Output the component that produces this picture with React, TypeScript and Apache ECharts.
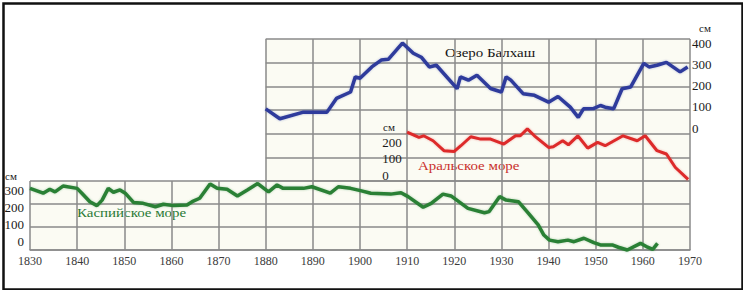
import React, { useEffect, useRef } from "react";
import * as echarts from "echarts";

// ---- data (years, levels in cm) ----
const caspianYears = [1830, 1832.8, 1834.2, 1835.3, 1837, 1840, 1841, 1842.7, 1844.2, 1845.3, 1846.6, 1847.7, 1849.1, 1850.2, 1852, 1854, 1856.6, 1858.3, 1860.4, 1863.3, 1864.4, 1866, 1868.2, 1869.7, 1871.8, 1874, 1876.1, 1878.3, 1880.6, 1882.4, 1883.7, 1888, 1889.8, 1893.7, 1895.4, 1898, 1900.1, 1902.3, 1906.5, 1908.7, 1910.2, 1913.4, 1915.1, 1917.6, 1919.3, 1922.9, 1926.4, 1927.4, 1929.6, 1931, 1933.6, 1935.7, 1937.8, 1939, 1940.2, 1942, 1944.1, 1945.4, 1947.5, 1949.6, 1951, 1953.5, 1954.8, 1956.7, 1959.5, 1961, 1962.1, 1963.1];
const caspianLevels = [268, 247, 264, 253, 278, 268, 247, 210, 193, 217, 268, 251, 261, 247, 206, 203, 188, 199, 193, 196, 210, 225, 287, 268, 264, 235, 261, 289, 253, 283, 268, 268, 275, 247, 275, 268, 258, 247, 243, 249, 232, 186, 203, 243, 235, 181, 162, 167, 232, 217, 210, 160, 109, 65, 43, 36, 43, 36, 51, 32, 22, 22, 12, 0, 29, 12, 3, 29];

const balkhashYears = [1880, 1883, 1888, 1893, 1895, 1898, 1899, 1900, 1902.5, 1904.5, 1906, 1909, 1911.3, 1913, 1914.7, 1916.2, 1920.6, 1921.3, 1923, 1924.8, 1927.7, 1930, 1931, 1932, 1934.6, 1937, 1940, 1942, 1944.6, 1946.3, 1947.4, 1949.5, 1951, 1952, 1953.8, 1955.6, 1957.4, 1960.2, 1961.3, 1963, 1965, 1967.9, 1969.5];
const balkhashLevels = [105, 63, 91, 91, 149, 176, 240, 234, 282, 311, 314, 383, 340, 323, 282, 289, 190, 240, 226, 247, 191, 176, 240, 226, 169, 162, 133, 157, 112, 69, 105, 106, 119, 112, 105, 190, 197, 297, 282, 289, 301, 261, 282];

const aralYears = [1910, 1912.5, 1913.5, 1915.5, 1917.8, 1920, 1921.4, 1923.5, 1925.6, 1927.7, 1930.5, 1933, 1934, 1935.5, 1937, 1940, 1941, 1943, 1944.2, 1946.2, 1948.3, 1950.4, 1952, 1955.8, 1958.8, 1960.5, 1963, 1965, 1966.9, 1969.6];
const aralLevels = [206, 184, 191, 170, 128, 125, 149, 187, 177, 177, 156, 191, 191, 220, 191, 142, 145, 170, 153, 191, 139, 163, 149, 191, 170, 191, 128, 114, 57, 7];

const yearRange = [1830, 1970];
const balkhashStartYear = 1880;
const aralStartYear = 1910;
const caspianTicks = [0, 100, 200, 300];
const balkhashTicks = [0, 100, 200, 300, 400];
const aralTicks = [0, 100, 200];
const unitLabel = "см";
const caspianName = "Каспийское море";
const balkhashName = "Озеро Балхаш";
const aralName = "Аральское море";

// ---- layout ----
const X0 = 30;
const X1 = 690;
const RIGHT = 743 - X1;
const xOf = (yr: number) => X0 + ((yr - yearRange[0]) / (yearRange[1] - yearRange[0])) * (X1 - X0);
const TOP_Y = 39;
const MID_Y = 181;
const BOT_Y = 250;
const STEP_TOP = (MID_Y - TOP_Y) / 6;

const FONT = '"Liberation Serif", "Times New Roman", serif';
const GRID_COLOR = "#8a8a8a";
const BG = "#fbfbf3";

const pairs = (xs: number[], ys: number[]) => xs.map((x, i) => [x, ys[i]]);

export default function App() {
  const ref = useRef<HTMLDivElement>(null);
  useEffect(() => {
    if (!ref.current) return;
    const chart = echarts.init(ref.current, null, { renderer: "svg" });
    const split = { show: true, lineStyle: { color: GRID_COLOR, width: 1.5 } };
    const hiddenX = (gi: number, min: number) => ({
      gridIndex: gi, type: "value", min, max: yearRange[1], show: false,
    });
    const labelY = (gi: number, ticks: number[], extra: any) => ({
      gridIndex: gi,
      type: "value",
      min: ticks[0],
      max: ticks[ticks.length - 1],
      interval: 100,
      axisLine: { show: false },
      axisTick: { show: false },
      splitLine: { show: false },
      ...extra,
    });
    chart.setOption({
      animation: false,
      backgroundColor: "#ffffff",
      grid: [
        { left: X0, right: RIGHT, top: MID_Y, height: BOT_Y - MID_Y, show: true, backgroundColor: BG, borderWidth: 0 },
        { left: xOf(balkhashStartYear), right: RIGHT, top: TOP_Y, height: MID_Y - TOP_Y, show: true, backgroundColor: BG, borderWidth: 0 },
        { left: xOf(aralStartYear), right: RIGHT, top: MID_Y - 2 * STEP_TOP, height: 2 * STEP_TOP },
        { left: xOf(aralStartYear), right: RIGHT, top: 142, height: 33 },
        { left: X0, right: RIGHT, top: 190, height: 51 },
        { left: xOf(balkhashStartYear), right: RIGHT, top: 43, height: 85 },
      ],
      xAxis: [
        {
          gridIndex: 0, type: "value", min: yearRange[0], max: yearRange[1], interval: 10,
          axisLine: { show: true, lineStyle: { color: GRID_COLOR, width: 1.5 } },
          axisTick: { show: false },
          axisLabel: { color: "#3a3a3a", fontFamily: FONT, fontSize: 12, margin: 5, formatter: (v: number) => String(v) },
          splitLine: split,
        },
        {
          gridIndex: 1, type: "value", min: balkhashStartYear, max: yearRange[1], interval: 10,
          axisLine: { show: false }, axisTick: { show: false }, axisLabel: { show: false },
          splitLine: split,
        },
        hiddenX(2, aralStartYear),
        hiddenX(3, aralStartYear),
        hiddenX(4, yearRange[0]),
        hiddenX(5, balkhashStartYear),
      ],
      yAxis: [
        {
          gridIndex: 0, type: "value", min: caspianTicks[0], max: caspianTicks[caspianTicks.length - 1], interval: 100,
          axisLine: { show: false }, axisTick: { show: false }, axisLabel: { show: false },
          splitLine: split,
        },
        {
          gridIndex: 1, type: "value", position: "right", min: -200, max: balkhashTicks[balkhashTicks.length - 1], interval: 100,
          axisLine: { show: false }, axisTick: { show: false }, axisLabel: { show: false },
          splitLine: split,
        },
        { gridIndex: 2, type: "value", min: aralTicks[0], max: aralTicks[aralTicks.length - 1], show: false },
        labelY(3, aralTicks, {
          axisLabel: { align: "left", margin: 25, color: "#1a1a1a", fontFamily: FONT, fontSize: 13 },
        }),
        labelY(4, caspianTicks, {
          axisLabel: { margin: 6, color: "#1a1a1a", fontFamily: FONT, fontSize: 13 },
        }),
        labelY(5, balkhashTicks, {
          position: "right",
          axisLabel: { margin: 2, color: "#1a1a1a", fontFamily: FONT, fontSize: 13 },
        }),
      ],
      series: [
        {
          type: "line", name: caspianName, xAxisIndex: 0, yAxisIndex: 0,
          data: pairs(caspianYears, caspianLevels),
          showSymbol: false, clip: false,
          lineStyle: { color: "#2a8036", width: 3.5, shadowColor: "rgba(42,128,54,0.35)", shadowBlur: 2 },
        },
        {
          type: "line", name: balkhashName, xAxisIndex: 1, yAxisIndex: 1,
          data: pairs(balkhashYears, balkhashLevels),
          showSymbol: false, clip: false,
          lineStyle: { color: "#2f3b9c", width: 3.5, shadowColor: "rgba(47,59,156,0.35)", shadowBlur: 2 },
        },
        {
          type: "line", name: aralName, xAxisIndex: 2, yAxisIndex: 2,
          data: pairs(aralYears, aralLevels),
          showSymbol: false, clip: false,
          lineStyle: { color: "#dd2a2a", width: 3, shadowColor: "rgba(221,42,42,0.35)", shadowBlur: 2 },
        },
      ],
      graphic: [
        {
          type: "rect", left: 1, top: 1, shape: { x: 0, y: 0, width: 739, height: 286 },
          style: { fill: "none", stroke: "#111", lineWidth: 2.5 }, silent: true,
        },
        { type: "text", x: 5, y: 176, style: { text: unitLabel, fill: "#1a1a1a", font: `11px ${FONT}`, textVerticalAlign: "middle" } },
        { type: "text", x: 699, y: 28, style: { text: unitLabel, fill: "#1a1a1a", font: `11px ${FONT}`, textVerticalAlign: "middle" } },
        { type: "text", x: 383, y: 127, style: { text: unitLabel, fill: "#1a1a1a", font: `11px ${FONT}`, textVerticalAlign: "middle" } },
        { type: "text", x: 445, y: 53, scaleX: 1.15, style: { text: balkhashName, fill: "#151515", font: `13px ${FONT}`, textVerticalAlign: "middle" } },
        { type: "text", x: 77, y: 213, scaleX: 1.15, style: { text: caspianName, fill: "#2a7a36", font: `13px ${FONT}`, textVerticalAlign: "middle" } },
        { type: "text", x: 418, y: 166, scaleX: 1.15, style: { text: aralName, fill: "#c9302c", font: `13px ${FONT}`, textVerticalAlign: "middle" } },
      ],
    });
    return () => chart.dispose();
  }, []);
  return <div ref={ref} style={{ position: "absolute", left: 0, top: 0, width: 743, height: 290 }} />;
}
